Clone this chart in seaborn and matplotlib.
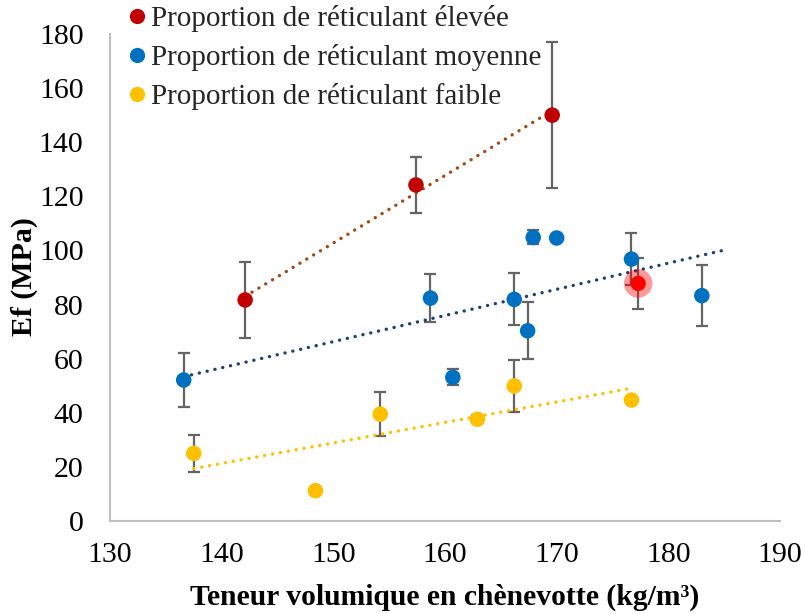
import numpy as np
import pandas as pd
import matplotlib
matplotlib.use("Agg")
import matplotlib.pyplot as plt
import seaborn as sns
from matplotlib.lines import Line2D

# values
x_elevee = [142.1, 157.4, 169.6]
y_elevee = [81.7, 124.2, 150.0]
e_elevee = [14.0, 10.5, 27.0]

x_moyenne = [136.6, 158.7, 160.7, 166.2, 167.4, 167.9, 170.0, 176.7, 183.0]
y_moyenne = [52.1, 82.4, 53.1, 81.9, 70.3, 104.8, 104.6, 96.8, 83.3]
e_moyenne = [10.0, 9.0, 2.9, 9.6, 10.5, 2.6, 0.0, 9.5, 11.3]

x_faible = [137.5, 148.4, 154.2, 162.9, 166.2, 176.7]
y_faible = [25.0, 11.2, 39.5, 37.6, 49.9, 44.7]
e_faible = [6.8, 0.0, 8.1, 1.5, 9.7, 0.0]

# highlighted (selected) point
x_select = [177.3]
y_select = [87.8]
e_select = [9.5]

labels = ["Proportion de réticulant élevée",
          "Proportion de réticulant moyenne",
          "Proportion de réticulant faible"]
colors = ["#C00000", "#0070C0", "#FFC000"]
trend_colors = ["#A04A14", "#203F74", "#FFC000"]
forecast = [0, 2, 0]

sns.set_theme(style="white")
plt.rcParams['font.family'] = ['Liberation Serif', 'DejaVu Serif']

series = [(x_elevee, y_elevee, e_elevee),
          (x_moyenne, y_moyenne, e_moyenne),
          (x_faible, y_faible, e_faible)]

df = pd.concat([pd.DataFrame({'x': s[0], 'y': s[1], 'err': s[2], 'serie': lab})
                for s, lab in zip(series, labels)], ignore_index=True)

fig = plt.figure(figsize=(8.05, 6.14), dpi=100)
ax = fig.add_axes([110/805, 1 - 521/614, 670/805, 487/614])

# error bars (behind markers)
ax.errorbar(df['x'], df['y'], yerr=df['err'], fmt='none', ecolor='#646464',
            elinewidth=1.6, capsize=4.3, capthick=1.6, zorder=2)
ax.errorbar(x_select, y_select, yerr=e_select, fmt='none', ecolor='#646464',
            elinewidth=1.6, capsize=4.3, capthick=1.6, zorder=2)

# linear trendlines
for (xs, ys, es), c, fw in zip(series, trend_colors, forecast):
    a, b = np.polyfit(xs, ys, 1)
    xx = np.array([min(xs), max(xs) + fw])
    ax.plot(xx, a*xx + b, color=c, lw=2.4, linestyle=(0, (0.05, 2.35)),
            dash_capstyle='round', zorder=3)

sns.scatterplot(data=df, x='x', y='y', hue='serie', palette=colors, s=125,
                edgecolor='none', legend=False, ax=ax, zorder=4)

# selected point with halo
ax.scatter(x_select, y_select, s=420, color='#FF0000', alpha=0.4, edgecolor='none', zorder=4)
ax.scatter(x_select, y_select, s=120, color='#FF0000', edgecolor='none', zorder=5)

ax.set_xlim(130, 190)
ax.set_ylim(0, 180)
ax.set_xticks(np.arange(130, 191, 10))
ax.set_yticks(np.arange(0, 181, 20))
for side in ['top', 'right']:
    ax.spines[side].set_visible(False)
for side in ['left', 'bottom']:
    ax.spines[side].set_color('#BFBFBF')
    ax.spines[side].set_linewidth(1.5)
ax.tick_params(direction='inout', length=12, width=1.5, color='#BFBFBF',
               labelsize=21.5, labelcolor='black', pad=9)
ax.tick_params(axis='y', pad=13)

ax.set_xlabel("")
ax.set_ylabel("")
fig.text(445/805, 1 - 605/614, "Teneur volumique en chènevotte (kg/m³)", fontsize=21.3,
         fontweight='bold', color='black', ha='center', va='baseline')
fig.text(24/805, 1 - 277/614, "Ef (MPa)", fontsize=21.5, fontweight='bold',
         color='black', rotation=90, ha='center', va='center')

handles = [Line2D([], [], marker='o', linestyle='none', markersize=11,
                  markerfacecolor=c, markeredgecolor='none') for c in colors]
fig.legend(handles, labels, loc='upper left', bbox_to_anchor=(128/805, 1 - 5/614),
           frameon=False, fontsize=21, handlelength=0.6, handletextpad=0.2,
           labelspacing=0.42, borderaxespad=0, borderpad=0)

fig.savefig("out.png", dpi=100)
